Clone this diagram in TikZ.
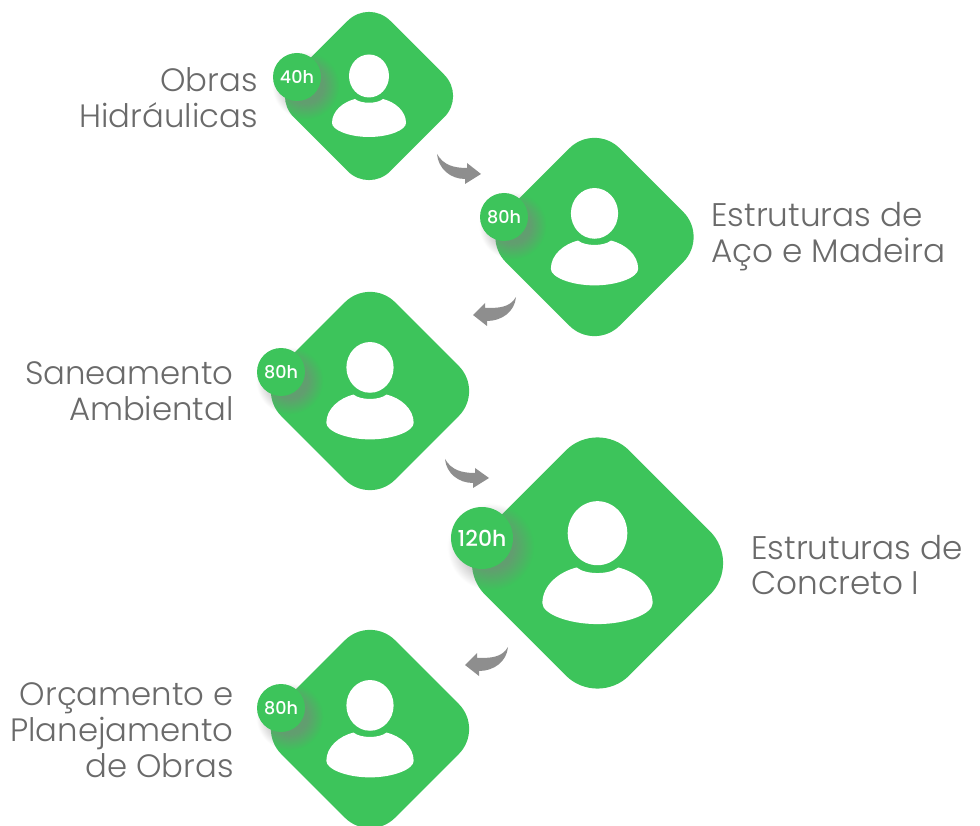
\documentclass[tikz,border=0pt]{standalone}
\usepackage{fontspec}
\setmainfont{Poppins}[UprightFont=* Light,BoldFont=* Medium]
\usetikzlibrary{shadows}
\definecolor{tilegreen}{HTML}{3DC45B}
\definecolor{flowgray}{HTML}{8E8E8E}
\definecolor{labelgray}{HTML}{6A6A6A}
\pgfdeclareradialshading{softshadowmask}{\pgfpointorigin}{color(0bp)=(pgftransparent!0);
  color(13bp)=(pgftransparent!0); color(25bp)=(pgftransparent!100); color(50bp)=(pgftransparent!100)}
\pgfdeclarefading{softshadow}{\pgfuseshading{softshadowmask}}

\begin{document}
\begin{tikzpicture}
  [x=0.02cm,y=0.02cm,
  tile/.style={rectangle,fill=tilegreen,rotate=45,inner sep=0,outer sep=0},
  tilesmall/.style={tile,minimum size=2.73cm,rounded corners=0.6cm},
  tilemedium/.style={tile,minimum size=3.22cm,rounded corners=0.71cm},
  tilelarge/.style={tile,minimum size=4.08cm,rounded corners=0.9cm},
  badge/.style={circle,fill=tilegreen,text=white,inner sep=0,outer sep=0,
                  font=\bfseries\fontsize{10}{12}\selectfont,
                  circular drop shadow={path fading=softshadow,shadow xshift=3.5pt,
                  shadow yshift=-3.5pt,shadow scale=1.4,opacity=0.55}},
  badgesmall/.style={badge,minimum size=0.96cm},
  badgelarge/.style={badge,minimum size=1.24cm,
                  font=\bfseries\fontsize{12.5}{14}\selectfont},
  leftlabel/.style={anchor=east,align=right,text=labelgray,inner sep=0,
                  font=\fontsize{18.4}{20.4}\selectfont},
  rightlabel/.style={anchor=west,align=left,text=labelgray,inner sep=0,
                  font=\fontsize{18.6}{20.4}\selectfont},
  flow/.style={fill=flowgray},
  person/.pic={
    \fill[white] (0,20) ellipse [x radius=20,y radius=21.5];
    \fill[white] (-14,-3) .. controls (-26,-6) and (-37,-15) .. (-37,-27)
      .. controls (-37,-34) and (-20,-41) .. (0,-41)
      .. controls (20,-41) and (37,-34) .. (37,-27)
      .. controls (37,-15) and (26,-6) .. (14,-3)
      .. controls (8,-8) and (-8,-8) .. (-14,-3) -- cycle;
  }]

  \useasboundingbox (0,0) rectangle (980,825);

  \node[tilesmall] (obras) at (369,729) {};
  \node[tilemedium] (aco) at (594.5,588) {};
  \node[tilemedium] (saneamento) at (370,434) {};
  \node[tilelarge] (concreto) at (597.5,262) {};
  \node[tilemedium] (orcamento) at (370,96) {};

  \pic (iconobras) at (obras) {person};
  \pic[scale=1.18] (iconaco) at (aco) {person};
  \pic[scale=1.18] (iconsaneamento) at (saneamento) {person};
  \pic[scale=1.49] (iconconcreto) at (concreto) {person};
  \pic[scale=1.18] (iconorcamento) at (orcamento) {person};

  \node[badgesmall] (h40) at (297,748) {40h};
  \node[badgesmall] (h80a) at (504,608) {80h};
  \node[badgesmall] (h80b) at (281,453) {80h};
  \node[badgelarge] (h120) at (482,287) {120h};
  \node[badgesmall] (h80c) at (281,117) {80h};

  \node[leftlabel] (lobras) at (258,727) {Obras\\Hidráulicas};
  \node[rightlabel] (laco) at (711,588) {Estruturas de\\Aço e Madeira};
  \node[leftlabel] (lsaneamento) at (234,434) {Saneamento\\Ambiental};
  \node[rightlabel] (lconcreto) at (751,260) {Estruturas de\\Concreto I};
  \node[leftlabel] (lorcamento) at (234,95) {Orçamento e\\Planejamento\\de Obras};

  \coordinate (t1) at (437,671);
  \coordinate (h1) at (481,651);
  \coordinate (t2) at (516,528);
  \coordinate (h2) at (473,510);
  \coordinate (t3) at (445,366);
  \coordinate (h3) at (489,347);
  \coordinate (t4) at (508,178);
  \coordinate (h4) at (465,160);

  \fill[flow] (t1) to [out=-60,in=180] ++(30,-14) -- ++(0,5) -- (h1) -- ++(-16,-10)
    -- ++(0,5) to [out=180,in=-85] (t1) -- cycle;
  \fill[flow] (t2) to [out=-120,in=0] ++(-31,-11) -- ++(0,5) -- (h2) -- ++(14,-11)
    -- ++(0,5) to [out=0,in=-95] (t2) -- cycle;
  \fill[flow] (t3) to [out=-60,in=180] ++(30,-14) -- ++(0,5) -- (h3) -- ++(-16,-10)
    -- ++(0,5) to [out=180,in=-85] (t3) -- cycle;
  \fill[flow] (t4) to [out=-120,in=0] ++(-31,-11) -- ++(0,5) -- (h4) -- ++(14,-11)
    -- ++(0,5) to [out=0,in=-95] (t4) -- cycle;
\end{tikzpicture}
\end{document}
